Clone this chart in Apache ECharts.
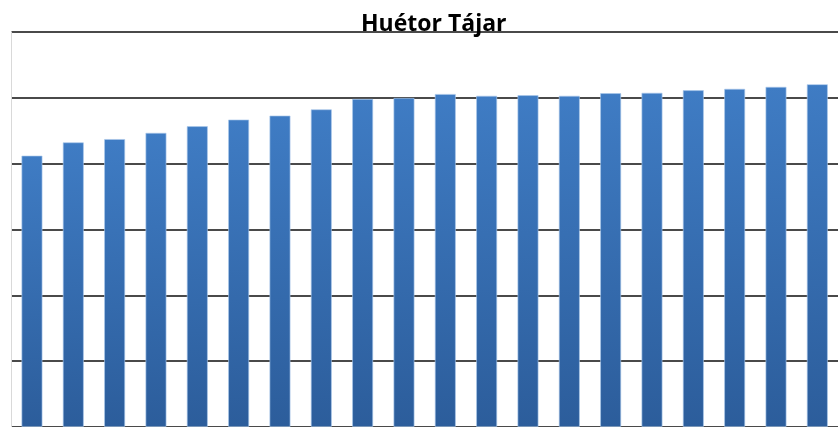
<!DOCTYPE html>
<html>
<head>
<meta charset="utf-8">
<script src="https://cdn.jsdelivr.net/npm/echarts@6/dist/echarts.min.js"></script>
<style>
  html, body { margin: 0; padding: 0; background: #fff; }
  #chart { width: 838px; height: 427px; }
</style>
</head>
<body>
<div id="chart"></div>
<script>
// categories (axis labels are not visible in the picture)
const categories = ['1', '2', '3', '4', '5', '6', '7', '8', '9', '10',
  '11', '12', '13', '14', '15', '16', '17', '18', '19', '20'];
// bar heights
const values = [8244, 8648, 8747, 8937, 9139, 9340, 9461, 9651, 9967, 9997,
  10117, 10063, 10081, 10063, 10142, 10154, 10232, 10274, 10334, 10413];
// y axis ticks
const yMin = 0;
const yMax = 12000;
const yStep = 2000;

const chart = echarts.init(document.getElementById('chart'));
chart.setOption({
  animation: false,
  title: {
    text: 'Huétor Tájar',
    left: 356,
    top: 8,
    textStyle: {
      fontFamily: 'Open Sans',
      fontWeight: 'bold',
      fontSize: 23,
      color: '#000'
    }
  },
  grid: { left: 11.3, right: -8.3, top: 32, bottom: -3.4, containLabel: false },
  xAxis: {
    type: 'category',
    data: categories,
    axisLine: { show: false },
    axisTick: { show: false },
    axisLabel: { show: false }
  },
  yAxis: {
    type: 'value',
    min: yMin,
    max: yMax,
    interval: yStep,
    axisLine: { show: true, lineStyle: { color: '#d9d9d9', width: 1 } },
    axisTick: { show: false },
    axisLabel: { show: false },
    splitLine: { lineStyle: { color: '#4a4a4a', width: 2 } }
  },
  series: [{
    type: 'bar',
    data: values,
    barWidth: 21,
    itemStyle: {
      borderColor: 'rgba(170,200,235,0.8)',
      borderWidth: 0.8,
      color: new echarts.graphic.LinearGradient(0, 0, 0, 1, [
        { offset: 0, color: '#3f7cc4' },
        { offset: 1, color: '#2c5d9b' }
      ])
    }
  }]
});
</script>
</body>
</html>
